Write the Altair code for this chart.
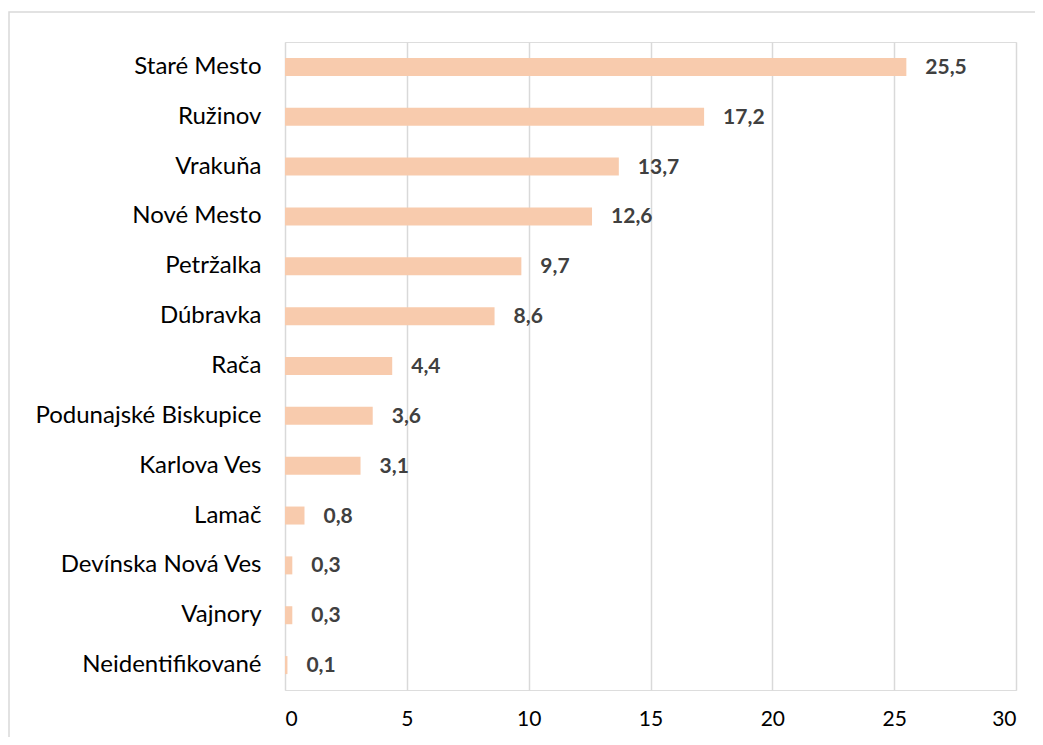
import altair as alt
import pandas as pd

districts = ["Staré Mesto", "Ružinov", "Vrakuňa", "Nové Mesto", "Petržalka", "Dúbravka",
             "Rača", "Podunajské Biskupice", "Karlova Ves", "Lamač", "Devínska Nová Ves",
             "Vajnory", "Neidentifikované"]
values = [25.5, 17.2, 13.7, 12.6, 9.7, 8.6, 4.4, 3.6, 3.1, 0.8, 0.3, 0.3, 0.1]
x_ticks = [0, 5, 10, 15, 20, 25, 30]

df = pd.DataFrame({"district": districts, "value": values})

FONT = "Lato"
W, H = 731, 648

y_enc = alt.Y("district:N", sort=districts, title=None,
              axis=alt.Axis(domain=False, ticks=False, labelFont=FONT, labelFontSize=24,
                            labelColor="#000000", labelPadding=24, labelLimit=400))
x_enc = alt.X("value:Q", title=None,
              scale=alt.Scale(domain=[0, 30], nice=False),
              axis=alt.Axis(values=x_ticks, domain=False, ticks=False, grid=True,
                            gridColor="#d9d9d9", gridWidth=1.5, labelFont=FONT,
                            labelFontSize=21, labelColor="#000000", labelPadding=18))

base = alt.Chart(df)

bars = base.mark_bar(color="#F8CBAD", size=18).encode(x=x_enc, y=y_enc)

labels = base.transform_calculate(
    lbl="replace(format(datum.value, '.1f'), '.', ',')"
).mark_text(align="left", baseline="middle", dx=19, dy=1, font=FONT, fontSize=21,
            fontWeight="bold", color="#404040").encode(
    x="value:Q", y=alt.Y("district:N", sort=districts), text="lbl:N")

frame = alt.Chart(pd.DataFrame({"a": [0]})).mark_rect(
    fill=None, stroke="#d9d9d9", strokeWidth=1.5).encode(
    x=alt.value(-276), x2=alt.value(770), y=alt.value(-30), y2=alt.value(720))

chart = alt.layer(frame, bars, labels).properties(
    width=W, height=H,
    autosize=alt.AutoSizeParams(type="none"),
    padding={"left": 277, "top": 34, "right": 19, "bottom": 47},
).configure_view(stroke=None).configure(background="#ffffff")

chart.save("out.html", embed_options={"renderer": "svg", "actions": False})
